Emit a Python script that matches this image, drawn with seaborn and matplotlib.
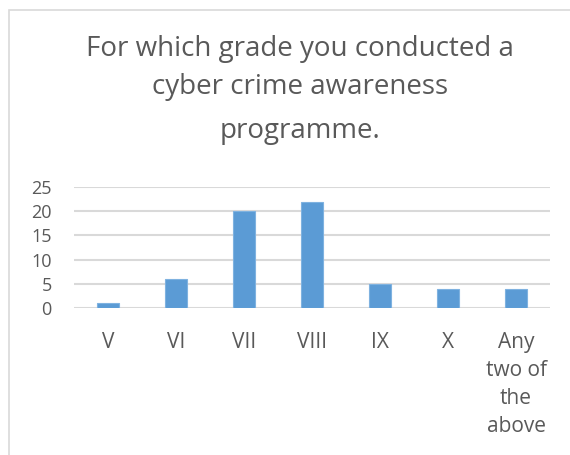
import matplotlib
matplotlib.use("Agg")
import matplotlib.pyplot as plt
import seaborn as sns
import pandas as pd
from matplotlib.patches import Rectangle

# data
grades = ["V", "VI", "VII", "VIII", "IX", "X", "Any\ntwo of\nthe\nabove"]
counts = [1, 6, 20, 22, 5, 4, 4]
yticks = [0, 5, 10, 15, 20, 25]
title_lines = ["For which grade you conducted a", "cyber crime awareness", "programme."]

df = pd.DataFrame({"grade": grades, "count": counts})

sns.set_theme(style="white")
plt.rcParams["font.family"] = ["Open Sans", "DejaVu Sans"]

fig = plt.figure(figsize=(5.7, 4.55), dpi=100)
ax = fig.add_axes([74 / 570, 1 - 308 / 455, 476 / 570, 121 / 455])

sns.barplot(data=df, x="grade", y="count", ax=ax, color="#5b9bd5",
            width=0.31, edgecolor="#7fb2e0", linewidth=0.8, saturation=1)

ax.set_ylim(0, 25)
ax.set_xlim(-0.5, len(grades) - 0.5)
ax.set_yticks(yticks)
ax.yaxis.grid(True, color="#d9d9d9", linewidth=1.5)
ax.set_axisbelow(True)
for s in ax.spines.values():
    s.set_visible(False)
ax.set_xlabel("")
ax.set_ylabel("")
ax.tick_params(axis="y", labelsize=13, labelcolor="#595959", length=0, pad=16)
ax.tick_params(axis="x", labelsize=15, labelcolor="#595959", length=0, pad=17)
for lab in ax.get_xticklabels():
    lab.set_linespacing(1.45)
    lab.set_verticalalignment("top")

# title, three centred lines
for txt, base in zip(title_lines, [56, 94, 138]):
    fig.text(0.526, 1 - base / 455, txt, ha="center", va="baseline",
             fontsize=20, color="#595959")

# chart frame (only top and left edges visible in the crop)
fig.patches.append(Rectangle((9 / 570, -0.1), 1.2, 1 - 10 / 455 + 0.1,
                             transform=fig.transFigure, fill=False,
                             edgecolor="#d9d9d9", linewidth=1.2))

fig.savefig("out.png", dpi=100)
